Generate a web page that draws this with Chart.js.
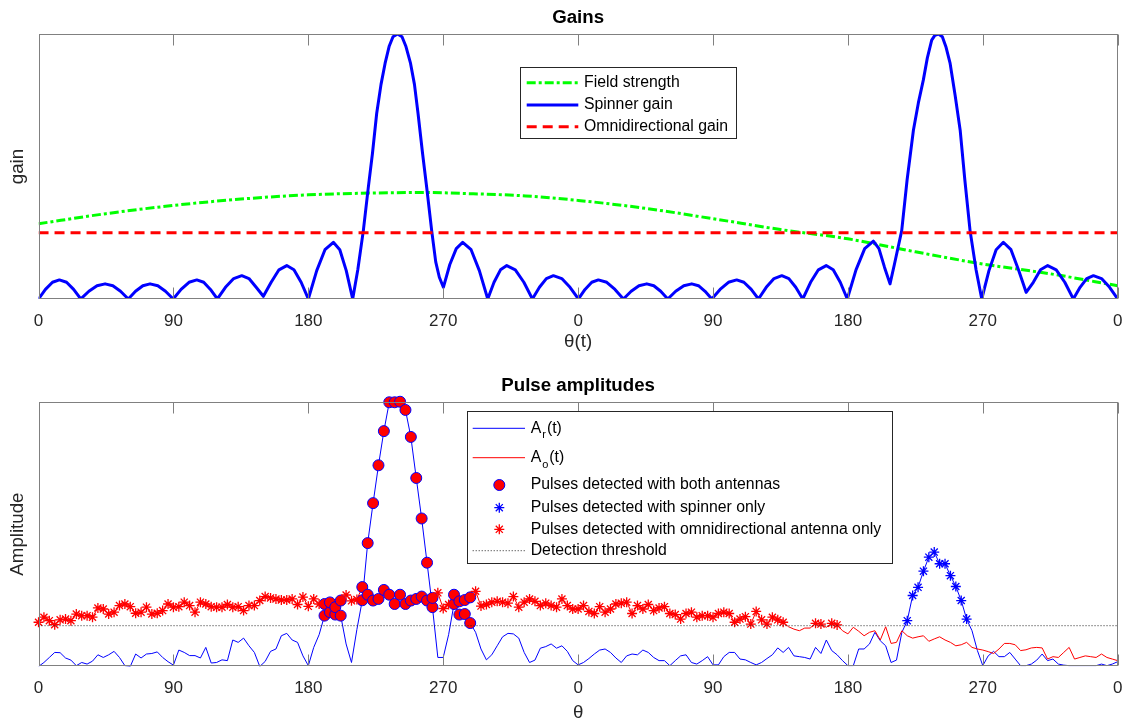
<!DOCTYPE html>
<html>
<head>
<meta charset="utf-8">
<script src="https://cdn.jsdelivr.net/npm/chart.js@4.4.1/dist/chart.umd.min.js"></script>
<style>
  body { margin: 0; background: #fff; }
  #wrap { position: relative; width: 1134px; height: 725px; }
  .box { position: absolute; left: 0; width: 1134px; }
</style>
</head>
<body>
<div id="wrap">
  <div class="box" style="top:0;height:357px"><canvas id="gainChart"></canvas></div>
  <div class="box" style="top:362px;height:363px"><canvas id="pulseChart"></canvas></div>
</div>
<script>
// ---- data (angles in degrees over two turns, gains / amplitudes normalised) ----
const tickStep = 90;

const spinAngle = [
  0, 4.6, 9.3, 13.9, 18.7, 23.4, 28.2,
  33.6, 39.0, 44.4, 49.6, 54.7, 59.9,
  64.7, 69.6, 74.4, 79.6, 84.7, 89.9,
  95.1, 100.4, 105.6, 110.2, 114.7, 119.3,
  124.7, 130.2, 135.6, 140.4, 145.2, 150.0,
  155.2, 160.4, 165.6, 170.4, 175.2, 180.0,
  185.6, 191.1, 196.7, 201.0, 205.3, 209.6,
  213.0, 216.7, 220.0, 222.8, 225.6, 228.5, 231.2, 234.0, 236.5, 239.5,
  242.5, 245.0, 248.2, 250.8, 253.2, 256.2, 259.0, 262.3, 265.0, 267.4, 270.1,
  274.4, 278.7, 283.0, 288.6, 294.1, 299.7,
  303.9, 308.2, 312.4, 318.1, 323.8, 329.5,
  334.2, 338.8, 343.5, 349.1, 354.6, 360.2,
  364.6, 369.1, 373.5, 379.1, 384.6, 390.2,
  395.4, 400.6, 405.8, 410.5, 415.1, 419.8,
  425.1, 430.5, 435.8, 440.3, 444.7, 449.2,
  454.7, 460.3, 465.8, 470.6, 475.5, 480.3,
  485.5, 490.7, 495.9, 500.6, 505.2, 509.9,
  515.1, 520.3, 525.5, 530.2, 534.9, 539.6,
  545.4, 551.2, 557.0, 560.7, 564.4, 568.1,
  571.0, 575.9, 579.5, 583.7, 587.0, 590.3, 593.0, 595.9, 598.0, 600.4,
  603.0, 605.5, 608.2, 611.5, 614.9, 618.0, 621.5, 625.5, 629.3,
  634.1, 638.9, 643.7, 648.8, 653.8, 658.9,
  663.7, 668.5, 673.3, 679.0, 684.7, 690.4,
  694.9, 699.3, 703.8, 709.2, 714.6, 720
];
const spinGain = [
  0, 0.036, 0.063, 0.072, 0.063, 0.036, 0,
  0.029, 0.050, 0.057, 0.050, 0.029, 0,
  0.029, 0.050, 0.057, 0.050, 0.029, 0,
  0.036, 0.063, 0.072, 0.063, 0.036, 0,
  0.044, 0.077, 0.088, 0.077, 0.044, 0.010,
  0.063, 0.110, 0.126, 0.110, 0.063, 0,
  0.107, 0.186, 0.214, 0.186, 0.107, 0,
  0.110, 0.258, 0.420, 0.550, 0.700, 0.810, 0.889, 0.955, 0.990, 1.000,
  0.990, 0.955, 0.889, 0.810, 0.700, 0.550, 0.420, 0.258, 0.140, 0.082, 0.044,
  0.130, 0.190, 0.214, 0.186, 0.107, 0,
  0.063, 0.110, 0.126, 0.110, 0.063, 0,
  0.044, 0.077, 0.088, 0.077, 0.044, 0,
  0.036, 0.063, 0.072, 0.063, 0.036, 0,
  0.029, 0.050, 0.057, 0.050, 0.029, 0,
  0.029, 0.050, 0.057, 0.050, 0.029, 0,
  0.036, 0.063, 0.072, 0.063, 0.036, 0,
  0.044, 0.077, 0.088, 0.077, 0.044, 0,
  0.063, 0.110, 0.126, 0.110, 0.063, 0,
  0.110, 0.190, 0.218, 0.190, 0.120, 0.057,
  0.130, 0.258, 0.450, 0.637, 0.740, 0.826, 0.910, 0.977, 0.995, 1.000,
  0.990, 0.950, 0.889, 0.770, 0.637, 0.450, 0.258, 0.110, 0,
  0.107, 0.186, 0.214, 0.186, 0.110, 0.025,
  0.063, 0.110, 0.126, 0.110, 0.063, 0,
  0.044, 0.077, 0.088, 0.077, 0.044, 0
];

const fieldAngle = [0, 45, 90, 135, 180, 225, 255, 290, 325, 360, 405, 450, 495, 540, 585, 630, 675, 720];
const fieldGain = [0.284, 0.322, 0.353, 0.377, 0.393, 0.400, 0.402, 0.397, 0.389, 0.372, 0.342, 0.303, 0.262, 0.227, 0.178, 0.132, 0.095, 0.050];

const omniGain = 0.25;

// pulse amplitudes, one pulse every 3.6 degrees
const pulseStep = 3.6;
const ampR = [
  0, .015, .034, .053, .052, .032, .024, .003, .015, .009,
  .020, .044, .034, .044, .057, .034, .003, 0, .047, .032,
  .047, .049, .055, .034, .018, .005, .062, .053, .041, .041,
  .032, .072, .013, .015, .025, .022, .100, .091, .107, .078,
  .053, 0, .019, .057, .066, .116, .125, .100, .091, .040,
  .003, .072, .120, .192, .205, .196, .192, .085, .015, .140,
  .250, .466, .617, .760, .889, .998, .998, 1.0, .969, .867,
  .712, .559, .392, .224, .034, .034, .120, .236, .196, .198,
  .164, .129, .066, .025, .044, .078, .112, .125, .123, .107,
  .053, .015, .024, .069, .075, .085, .069, .078, .057, .022,
  .006, .015, .030, .047, .062, .066, .053, .032, .015, .040,
  .047, .044, .062, .053, .034, .022, .022, .003, .022, .040,
  .044, .015, .009, .022, .037, .006, .006, .037, .053, .053,
  .028, .025, .015, .006, .015, .030, .044, .070, .053, .072,
  .040, .037, .034, .028, .072, .049, .100, .060, .044, .022,
  .003, .003, .066, .066, .085, .129, .097, .078, .015, .024,
  .129, .173, .268, .299, .360, .413, .432, .388, .388, .343,
  .302, .249, .179, .135, .060, .003, .040, .057, .037, .037,
  .053, .028, .003, .003, .009, .024, .047, .022, .028, .009,
  .005, .003, .003, .003, .003, .003, .003, .009, .003, .009,
  .018
];
const ampO = [
  .167, .186, .173, .158, .176, .179, .173, .198, .192, .192,
  .186, .221, .217, .198, .205, .230, .236, .226, .201, .205,
  .224, .198, .201, .211, .236, .224, .226, .243, .230, .205,
  .243, .236, .226, .224, .224, .234, .224, .226, .211, .230,
  .230, .249, .264, .259, .255, .251, .251, .255, .234, .262,
  .227, .255, .236, .236, .242, .224, .249, .270, .248, .253,
  .300, .271, .249, .255, .289, .271, .236, .271, .236, .249,
  .255, .264, .249, .259, .278, .219, .234, .271, .246, .251,
  .261, .284, .228, .234, .243, .246, .243, .239, .264, .224,
  .243, .255, .246, .230, .239, .230, .224, .255, .230, .217,
  .217, .230, .208, .200, .226, .205, .217, .236, .239, .243,
  .200, .230, .217, .234, .211, .221, .226, .200, .196, .179,
  .200, .205, .186, .192, .192, .186, .200, .205, .200, .167,
  .179, .188, .160, .208, .176, .160, .186, .176, .167, .150,
  .141, .135, .145, .145, .163, .160, .148, .163, .157, .135,
  .123, .148, .133, .116, .129, .135, .100, .150, .087, .091,
  .135, .116, .107, .112, .116, .095, .104, .112, .100, .091,
  .078, .082, .091, .072, .066, .062, .056, .049, .066, .087,
  .087, .082, .060, .063, .070, .072, .070, .028, .037, .034,
  .053, .072, .028, .034, .040, .037, .034, .047, .034, .028,
  .022
];
const threshold = 0.154;

// ---- build points ----
const spinPts = spinAngle.map((a, i) => ({ x: a, y: spinGain[i] }));
const fieldPts = fieldAngle.map((a, i) => ({ x: a, y: fieldGain[i] }));
const omniPts = [{ x: 0, y: omniGain }, { x: 720, y: omniGain }];

const pulseAngle = ampR.map((_, i) => i * pulseStep);
const ptsR = ampR.map((v, i) => ({ x: pulseAngle[i], y: v }));
const ptsO = ampO.map((v, i) => ({ x: pulseAngle[i], y: v }));
const both = [], spinOnly = [], omniOnly = [];
ampR.forEach((r, i) => {
  const o = ampO[i], x = pulseAngle[i];
  if (r > threshold && o > threshold) {
    both.push({ x, y: r }, { x, y: o });
  } else if (r > threshold) {
    spinOnly.push({ x, y: r });
  } else if (o > threshold) {
    omniOnly.push({ x, y: o });
  }
});

// ---- styling helpers ----
const FONT = '"Liberation Sans", Arial, Helvetica, sans-serif';
Chart.defaults.font.family = FONT;
Chart.defaults.color = '#262626';
const legendFont = '15.8px ' + FONT;

// tick padding is kept at 0 (Chart.js also reserves it at the plot's sides);
// the tall line height puts the labels where they sit in the figure
function xAxis(label, tickLine, titlePad) {
  return {
    type: 'linear', min: 0, max: 720,
    grid: { display: false, drawTicks: false },
    border: { display: false },
    ticks: {
      stepSize: tickStep, padding: 0, autoSkip: false, maxRotation: 0,
      color: '#262626', font: { size: 17, lineHeight: tickLine / 17 },
      callback: v => v % 360
    },
    title: { display: true, text: label, color: '#262626', font: { size: 18.7 }, padding: titlePad }
  };
}
function yAxis(label) {
  return {
    min: 0, max: 1,
    grid: { display: false, drawTicks: false },
    border: { display: false },
    ticks: { display: false },
    title: { display: true, text: label, color: '#262626', font: { size: 18.7 }, padding: { top: 6.8, bottom: 9.3 } }
  };
}

// box round the axes and inward tick marks
const frame = {
  id: 'frame',
  afterDraw(chart) {
    const { ctx, chartArea: a, scales: { x } } = chart;
    const l = Math.round(a.left) + 0.5, r = Math.round(a.right) - 0.5;
    const t = Math.round(a.top) + 0.5, b = Math.round(a.bottom) - 0.5;
    ctx.save();
    ctx.strokeStyle = '#808080';
    ctx.lineWidth = 1;
    ctx.strokeRect(l, t, r - l, b - t);
    ctx.beginPath();
    x.ticks.forEach(tk => {
      const px = Math.round(x.getPixelForValue(tk.value)) + 0.5;
      ctx.moveTo(px, b); ctx.lineTo(px, b - 11);
      ctx.moveTo(px, t); ctx.lineTo(px, t + 11);
    });
    ctx.stroke();
    ctx.restore();
  }
};

function legendBox(ctx, x, y, w, h) {
  ctx.fillStyle = '#fff';
  ctx.fillRect(x, y, w, h);
  ctx.strokeStyle = '#262626';
  ctx.lineWidth = 1;
  ctx.setLineDash([]);
  ctx.strokeRect(x, y, w, h);
}
function legendLine(ctx, x1, x2, y, color, width, dash) {
  ctx.beginPath();
  ctx.setLineDash(dash || []);
  ctx.strokeStyle = color;
  ctx.lineWidth = width;
  ctx.moveTo(x1, y); ctx.lineTo(x2, y);
  ctx.stroke();
  ctx.setLineDash([]);
}
function asterisk(ctx, x, y, r, color) {
  ctx.beginPath();
  ctx.strokeStyle = color;
  ctx.lineWidth = 1.3;
  for (let k = 0; k < 4; k++) {
    const ang = k * Math.PI / 4;
    ctx.moveTo(x - r * Math.cos(ang), y - r * Math.sin(ang));
    ctx.lineTo(x + r * Math.cos(ang), y + r * Math.sin(ang));
  }
  ctx.stroke();
}
function legendText(ctx, text, x, y) {
  ctx.fillStyle = '#000';
  ctx.font = legendFont;
  ctx.textBaseline = 'middle';
  ctx.textAlign = 'left';
  ctx.fillText(text, x, y);
}
function subText(ctx, base, sub, tail, x, y) {
  legendText(ctx, base, x, y);
  let cx = x + ctx.measureText(base).width + 1;
  ctx.font = '11px ' + FONT;
  ctx.fillText(sub, cx, y + 7);
  cx += ctx.measureText(sub).width + 1;
  legendText(ctx, tail, cx, y);
}

const gainLegend = {
  id: 'gainLegend',
  afterDraw(chart) {
    const ctx = chart.ctx;
    ctx.save();
    legendBox(ctx, 520.5, 67.5, 216, 71);
    const rows = [82.7, 105, 126.7];
    chart.data.datasets.forEach((ds, i) => {
      legendLine(ctx, 526.7, 578.3, rows[i], ds.borderColor, ds.borderWidth, ds.borderDash);
      legendText(ctx, ds.label, 584, rows[i]);
    });
    ctx.restore();
  }
};

const pulseLegend = {
  id: 'pulseLegend',
  afterDraw(chart) {
    const ctx = chart.ctx;
    const ds = chart.data.datasets;
    const tx = 530.7, mx = 499.3;
    ctx.save();
    legendBox(ctx, 467.5, 49.5, 425, 152);
    legendLine(ctx, 472.7, 525, 66.3, ds[0].borderColor, 1);
    subText(ctx, 'A', 'r', '(t)', tx, 66.3);
    legendLine(ctx, 472.7, 525, 95.7, ds[1].borderColor, 1);
    subText(ctx, 'A', 'o', '(t)', tx, 95.7);
    ctx.beginPath();
    ctx.arc(mx, 123, 5.5, 0, Math.PI * 2);
    ctx.fillStyle = '#ff0000'; ctx.fill();
    ctx.strokeStyle = '#0000ff'; ctx.lineWidth = 1; ctx.stroke();
    legendText(ctx, ds[2].label, tx, 123);
    asterisk(ctx, mx, 145.7, 5, '#0000ff');
    legendText(ctx, ds[3].label, tx, 145.7);
    asterisk(ctx, mx, 167.3, 5, '#ff0000');
    legendText(ctx, ds[4].label, tx, 167.3);
    legendLine(ctx, 472.7, 525, 188.7, '#262626', 1, [1, 2]);
    legendText(ctx, ds[5].label, tx, 188.7);
    ctx.restore();
  }
};

// ---- Chart 1: Gains ----
new Chart(document.getElementById('gainChart'), {
  type: 'scatter',
  data: {
    datasets: [
      { label: 'Field strength', data: fieldPts, showLine: true, borderColor: '#00ff00', borderWidth: 3,
        borderDash: [9, 3, 3, 3], cubicInterpolationMode: 'monotone', pointRadius: 0, order: 3 },
      { label: 'Spinner gain', data: spinPts, showLine: true, borderColor: '#0000ff', borderWidth: 3,
        borderJoinStyle: 'round', borderCapStyle: 'round', pointRadius: 0, order: 2 },
      { label: 'Omnidirectional gain', data: omniPts, showLine: true, borderColor: '#ff0000', borderWidth: 3,
        borderDash: [10, 6], pointRadius: 0, order: 1 }
    ]
  },
  options: {
    responsive: true, maintainAspectRatio: false, animation: false,
    layout: { padding: { left: 0, right: 16.3, top: 0, bottom: 0 }, autoPadding: false },
    plugins: {
      legend: { display: false },
      tooltip: { enabled: false },
      title: { display: true, text: 'Gains', fullSize: false, color: '#000',
        font: { size: 18.7, weight: 'bold' }, padding: { top: 6.8, bottom: 4.8 } }
    },
    scales: { x: xAxis('θ(t)', 44, { top: -12.2, bottom: 3.8 }), y: yAxis('gain') }
  },
  plugins: [frame, gainLegend]
});

// ---- Chart 2: Pulse amplitudes ----
new Chart(document.getElementById('pulseChart'), {
  type: 'scatter',
  data: {
    datasets: [
      { label: 'A_r(t)', data: ptsR, showLine: true, borderColor: '#0000ff', borderWidth: 1, pointRadius: 0, order: 5 },
      { label: 'A_o(t)', data: ptsO, showLine: true, borderColor: '#ff0000', borderWidth: 1, pointRadius: 0, order: 4 },
      { label: 'Pulses detected with both antennas', data: both, pointStyle: 'circle', pointRadius: 5.5,
        pointBackgroundColor: '#ff0000', pointBorderColor: '#0000ff', pointBorderWidth: 1, order: 3, clip: false },
      { label: 'Pulses detected with spinner only', data: spinOnly, pointStyle: 'star', pointRadius: 5,
        pointBorderColor: '#0000ff', pointBorderWidth: 1.3, order: 2, clip: false },
      { label: 'Pulses detected with omnidirectional antenna only', data: omniOnly, pointStyle: 'star', pointRadius: 5,
        pointBorderColor: '#ff0000', pointBorderWidth: 1.3, order: 1, clip: false },
      { label: 'Detection threshold', data: [{ x: 0, y: threshold }, { x: 720, y: threshold }], showLine: true,
        borderColor: '#262626', borderWidth: 1, borderDash: [1, 2], pointRadius: 0, order: 0 }
    ]
  },
  options: {
    responsive: true, maintainAspectRatio: false, animation: false,
    layout: { padding: { left: 0, right: 16.3, top: 0, bottom: 0 }, autoPadding: false },
    plugins: {
      legend: { display: false },
      tooltip: { enabled: false },
      title: { display: true, text: 'Pulse amplitudes', fullSize: false, color: '#000',
        font: { size: 18.7, weight: 'bold' }, padding: { top: 12.8, bottom: 4.5 } }
    },
    scales: { x: xAxis('θ', 44, { top: -8.7, bottom: 0.8 }), y: yAxis('Amplitude') }
  },
  plugins: [frame, pulseLegend]
});
</script>
</body>
</html>
